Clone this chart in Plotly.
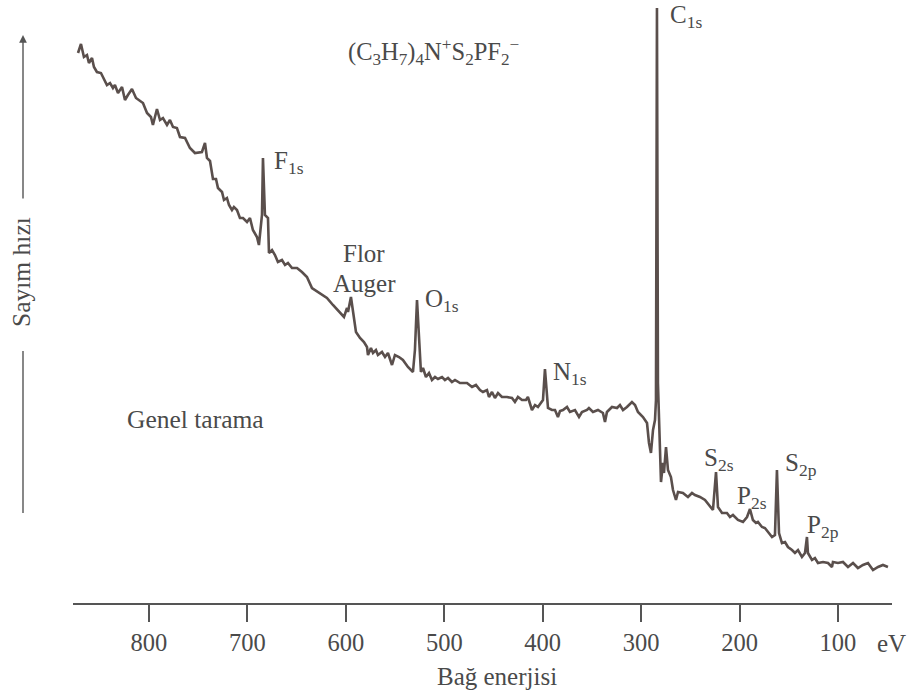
import plotly.graph_objects as go

# ---- data (binding energy in eV, count rate in arbitrary units) ----
binding_energy_ev = [
    872.1, 869.1, 866.1, 863.0, 861.0, 857.9, 855.9, 852.9, 848.8, 842.7,
    839.6, 836.6, 834.6, 831.5, 827.4, 824.4, 821.4, 817.3, 813.2, 810.2,
    806.1, 802.0, 798.0, 796.0, 791.9, 788.8, 785.8, 781.7, 778.7, 775.6,
    771.6, 768.5, 763.4, 758.4, 753.3, 746.2, 743.1, 741.1, 738.0, 735.0,
    731.9, 729.9, 725.8, 723.8, 720.8, 718.7, 715.7, 713.7, 710.6, 707.6,
    704.5, 700.4, 697.4, 694.4, 690.3, 688.3, 685.2, 684.2, 682.2, 679.1,
    678.1, 675.0, 672.0, 669.0, 664.9, 661.8, 658.8, 654.7, 649.6, 644.6,
    639.5, 634.4, 626.3, 619.2, 613.1, 606.0, 601.9, 598.8, 597.8, 594.8,
    592.8, 589.7, 585.6, 581.6, 578.5, 577.5, 574.5, 572.4, 569.4, 567.4,
    563.3, 560.2, 557.2, 553.1, 550.1, 546.0, 542.0, 536.9, 531.8, 529.8,
    527.7, 525.7, 523.7, 521.6, 518.6, 515.5, 512.5, 509.4, 506.4, 502.3,
    499.3, 496.2, 492.2, 489.1, 484.0, 476.9, 471.8, 467.8, 463.7, 460.7,
    456.6, 454.6, 451.5, 448.5, 445.4, 441.4, 436.3, 431.2, 428.2, 425.1,
    421.0, 417.0, 415.0, 410.9, 407.8, 404.8, 400.7, 399.7, 397.7, 395.6,
    394.6, 390.6, 387.5, 384.5, 382.4, 379.4, 375.3, 372.3, 367.2, 363.1,
    360.1, 355.0, 353.0, 348.9, 343.8, 338.8, 336.7, 334.7, 329.6, 324.5,
    321.5, 318.4, 314.4, 309.3, 306.2, 303.2, 298.1, 294.0, 292.0, 290.0,
    287.9, 285.9, 284.9, 283.9, 282.9, 279.8, 277.8, 276.8, 274.7, 272.7,
    269.7, 267.6, 264.6, 262.5, 257.5, 252.4, 248.3, 245.3, 240.2, 235.1,
    230.0, 227.0, 223.9, 221.9, 217.8, 212.8, 209.7, 206.7, 201.6, 196.5,
    192.4, 189.4, 186.4, 183.3, 181.3, 177.2, 174.2, 171.1, 167.0, 164.0,
    162.0, 159.9, 156.9, 153.8, 150.8, 146.7, 143.7, 140.6, 136.6, 133.5,
    131.5, 130.5, 126.4, 123.4, 120.3, 115.2, 110.1, 106.1, 105.1, 100.0,
    94.9, 89.8, 84.7, 79.7, 74.6, 69.5, 64.4, 59.3, 54.3, 49.2,
]

count_rate = [
    522, 531, 518, 520, 512, 517, 508, 503, 502, 490,
    492, 487, 490, 482, 488, 475, 480, 486, 477, 475,
    472, 462, 458, 450, 466, 455, 457, 450, 455, 448,
    447, 438, 437, 427, 422, 423, 432, 417, 414, 396,
    396, 387, 383, 375, 377, 370, 365, 368, 365, 357,
    357, 353, 357, 345, 338, 330, 360, 417, 360, 357,
    322, 325, 320, 313, 315, 310, 312, 307, 307, 303,
    298, 287, 282, 277, 270, 263, 258, 267, 263, 278,
    263, 243, 237, 233, 228, 220, 227, 222, 225, 220,
    223, 218, 222, 210, 220, 218, 215, 208, 203, 225,
    275, 235, 203, 207, 198, 202, 195, 198, 196, 198,
    195, 197, 193, 195, 192, 192, 188, 190, 185, 183,
    185, 178, 183, 177, 182, 178, 178, 177, 173, 178,
    175, 175, 178, 165, 170, 168, 173, 175, 206, 173,
    167, 165, 165, 158, 164, 165, 168, 163, 165, 158,
    163, 165, 167, 163, 165, 162, 153, 163, 168, 167,
    170, 165, 168, 173, 170, 163, 158, 152, 132, 122,
    145, 155, 175, 567, 192, 93, 112, 102, 128, 105,
    98, 85, 75, 83, 82, 78, 82, 80, 78, 75,
    68, 65, 103, 68, 62, 62, 58, 60, 55, 53,
    58, 66, 55, 52, 53, 48, 47, 43, 38, 40,
    105, 42, 32, 33, 28, 25, 22, 25, 18, 22,
    38, 22, 15, 17, 12, 13, 12, 8, 13, 12,
    13, 8, 12, 7, 10, 12, 5, 8, 10, 8,
]

tick_values = [800, 700, 600, 500, 400, 300, 200, 100]
tick_labels = ["800", "700", "600", "500", "400", "300", "200", "100"]

assert len(binding_energy_ev) == len(count_rate)

# ---- styling ----
FONT = "Liberation Serif"
TEXT_COLOR = "#4a4a4a"
LINE_COLOR = "#5a4f4c"
AXIS_COLOR = "#555555"

PLOT_L, PLOT_W, PLOT_H = 73, 819, 603


def px(x):
    return (x - PLOT_L) / PLOT_W


def py(y):
    return (PLOT_H - y) / PLOT_H


fig = go.Figure()
fig.add_trace(go.Scatter(
    x=binding_energy_ev, y=count_rate, mode="lines",
    line=dict(color=LINE_COLOR, width=2.6),
    hoverinfo="x+y",
))

labels = [
    ("(C<sub>3</sub>H<sub>7</sub>)<sub>4</sub>N<sup>+</sup>S<sub>2</sub>PF<sub>2</sub><sup>\u2212</sup>", 433, 52, "center", 24.5),
    ("C<sub>1s</sub>", 668, 17, "left", 25),
    ("F<sub>1s</sub>", 272, 162, "left", 25),
    ("Flor", 364, 253, "center", 25),
    ("Auger", 364, 283, "center", 25),
    ("O<sub>1s</sub>", 423, 301, "left", 25),
    ("N<sub>1s</sub>", 551, 373, "left", 25),
    ("Genel tarama", 195, 420, "center", 25.5),
    ("S<sub>2s</sub>", 702, 459, "left", 25),
    ("P<sub>2s</sub>", 735, 497, "left", 25),
    ("S<sub>2p</sub>", 783, 464, "left", 25),
    ("P<sub>2p</sub>", 805, 526, "left", 25),
    ("Bağ enerjisi", 497, 676, "center", 25),
    ("eV", 891, 643, "center", 25),
]

annotations = []
for text, x, y, anchor, size in labels:
    annotations.append(dict(
        text=text, x=px(x), y=py(y), xref="paper", yref="paper",
        xanchor=anchor, yanchor="middle", showarrow=False,
        font=dict(family=FONT, size=size, color=TEXT_COLOR),
    ))

# vertical axis label with arrow
annotations.append(dict(
    text="Sayım hızı", x=px(22), y=py(272), xref="paper", yref="paper",
    xanchor="center", yanchor="middle", showarrow=False, textangle=-90,
    font=dict(family=FONT, size=25.5, color=TEXT_COLOR),
))
annotations.append(dict(
    text="", x=px(23), y=py(35), xref="paper", yref="paper",
    ax=0, ay=165, axref="pixel", ayref="pixel",
    showarrow=True, arrowhead=2, arrowsize=1.1, arrowwidth=1.4,
    arrowcolor=AXIS_COLOR, standoff=0,
))

shapes = [dict(
    type="line", xref="paper", yref="paper",
    x0=px(23), x1=px(23), y0=py(351), y1=py(513),
    line=dict(color=AXIS_COLOR, width=1.4),
)]

fig.update_layout(
    width=918, height=695,
    margin=dict(l=PLOT_L, r=918 - PLOT_L - PLOT_W, t=0, b=695 - PLOT_H),
    paper_bgcolor="white", plot_bgcolor="white",
    showlegend=False,
    annotations=annotations,
    shapes=shapes,
    xaxis=dict(
        range=[877.2, 45.1], tickvals=tick_values, ticktext=tick_labels,
        ticks="outside", ticklen=17, tickwidth=1.5, tickcolor=AXIS_COLOR,
        showline=True, linewidth=2, linecolor=AXIS_COLOR,
        showgrid=False, zeroline=False,
        tickfont=dict(family=FONT, size=24.5, color=TEXT_COLOR),
        ticklabelstandoff=0,
    ),
    yaxis=dict(visible=False, range=[-28, 575], showgrid=False, zeroline=False),
)

fig.write_html(
    "out.html",
    config={"displayModeBar": False},
    post_script="document.body.style.margin='0';document.body.style.overflow='hidden';",
)
